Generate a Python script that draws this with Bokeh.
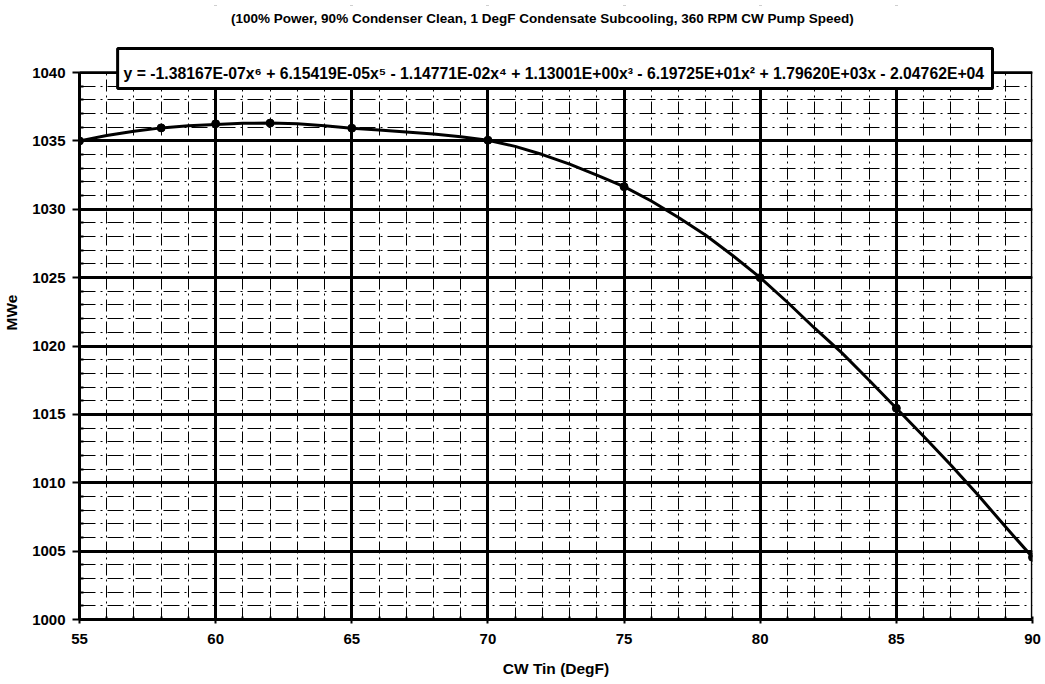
from bokeh.plotting import figure
from bokeh.models import Label, SingleIntervalTicker, Range1d, BoxAnnotation
from bokeh.embed import file_html
from bokeh.resources import INLINE

# ---- data ----
x_points = [55, 58, 60, 62, 65, 70, 75, 80, 85, 90]
mwe_points = [1035.0, 1035.95, 1036.25, 1036.3, 1035.93, 1035.05, 1031.65, 1025.0, 1015.45, 1004.55]

curve_x = [55, 56, 57, 58, 59, 60, 61, 62, 63, 64, 65, 66, 67, 68, 69, 70, 71, 72,
           73, 74, 75, 76, 77, 78, 79, 80, 81, 82, 83, 84, 85, 86, 87, 88, 89, 90]
curve_mwe = [1035.0, 1035.4, 1035.7, 1035.95, 1036.1, 1036.2, 1036.28, 1036.3, 1036.25,
             1036.1, 1035.93, 1035.8, 1035.65, 1035.5, 1035.3, 1035.05, 1034.6, 1034.0,
             1033.3, 1032.5, 1031.65, 1030.6, 1029.4, 1028.1, 1026.6, 1025.0, 1023.2,
             1021.3, 1019.5, 1017.5, 1015.45, 1013.4, 1011.3, 1009.1, 1006.8, 1004.55]

x_min, x_max = 55, 90
y_min, y_max = 1000, 1040

title_text = "(100% Power, 90% Condenser Clean, 1 DegF Condensate Subcooling, 360 RPM CW Pump Speed)"
equation_text = ("y = -1.38167E-07x\u2076 + 6.15419E-05x\u2075 - 1.14771E-02x\u2074 + 1.13001E+00x\u00b3"
                 " - 6.19725E+01x\u00b2 + 1.79620E+03x - 2.04762E+04")
x_label = "CW Tin (DegF)"
y_label = "MWe"

FONT = "Liberation Sans"
W, H = 1041, 682
TOP_PAD = 5          # frame extends to the top so the title / equation box are not clipped
FRAME_H = H - TOP_PAD - 63
PX_PER_Y = 547 / 40  # pixels per MWe in the visible plot area
y_top = y_min + FRAME_H / PX_PER_Y

p = figure(width=W, height=H, output_backend="svg", toolbar_location=None,
           x_range=Range1d(x_min, x_max), y_range=Range1d(y_min, y_top),
           min_border_left=79, min_border_right=9, min_border_top=TOP_PAD, min_border_bottom=63)
p.background_fill_color = "white"
p.border_fill_color = "white"
p.outline_line_color = None

for ax in (p.xaxis[0], p.yaxis[0]):
    ax.ticker = SingleIntervalTicker(interval=5, num_minor_ticks=5)
    ax.axis_line_width = 3
    ax.axis_line_color = "black"
    ax.major_tick_line_color = "black"
    ax.major_tick_line_width = 2
    ax.minor_tick_line_color = "black"
    ax.minor_tick_line_width = 2
    ax.major_label_text_font = FONT
    ax.major_label_text_font_style = "bold"
    ax.major_label_text_font_size = "15px"
    ax.major_label_text_color = "black"
    ax.axis_label_text_font = FONT
    ax.axis_label_text_font_style = "bold"
    ax.axis_label_text_font_size = "15.5px"
    ax.axis_label_text_color = "black"

p.xaxis.major_tick_out = 4
p.xaxis.major_tick_in = 0
p.xaxis.minor_tick_in = 3
p.xaxis.minor_tick_out = 0
p.xaxis.major_label_standoff = 10
p.xaxis.axis_label = x_label
p.xaxis.axis_label_standoff = 13

p.yaxis.bounds = (y_min, y_max)
p.yaxis.major_tick_out = 7
p.yaxis.major_tick_in = 0
p.yaxis.minor_tick_in = 4
p.yaxis.minor_tick_out = 0
p.yaxis.major_label_standoff = 7
p.yaxis.axis_label = y_label
p.yaxis.axis_label_standoff = 9

for g in (p.xgrid[0], p.ygrid[0]):
    g.grid_line_color = "black"
    g.grid_line_width = 3
    g.minor_grid_line_color = "black"
    g.minor_grid_line_width = 1
p.xgrid.minor_grid_line_dash = "12 4 2 4"
p.ygrid.minor_grid_line_dash = "16 5 2 5"

p.line(curve_x, curve_mwe, line_color="black", line_width=3)
p.scatter(x_points, mwe_points, size=8, marker="circle", fill_color="black", line_color="black")

# blank the area above the plot (grid lines stop at 1040)
p.add_layout(BoxAnnotation(bottom=y_max + 0.1, fill_color="white", fill_alpha=1.0,
                           line_color=None))
# right border of the plot area
p.add_layout(BoxAnnotation(left=x_max - 0.06, top=y_max, fill_color="black", fill_alpha=1.0,
                           line_color=None))

# equation box (overlapping the top of the plot area)
p.add_layout(BoxAnnotation(left=56.4, right=88.53, bottom=1038.83, top=1041.75,
                           fill_color="white", fill_alpha=1.0,
                           line_color="black", line_width=3, line_alpha=1.0))
p.add_layout(Label(x=56.4, y=1039.9, x_offset=6, text=equation_text,
                   text_baseline="middle", text_align="left",
                   text_font=FONT, text_font_style="bold", text_font_size="15.75px",
                   text_color="black"))

# title
p.add_layout(Label(x=72.0, y=1043.95, text=title_text, text_baseline="middle",
                   text_align="center", text_font=FONT, text_font_style="bold",
                   text_font_size="13.5px", text_color="black"))

open("out.html", "w").write(file_html(p, INLINE))
